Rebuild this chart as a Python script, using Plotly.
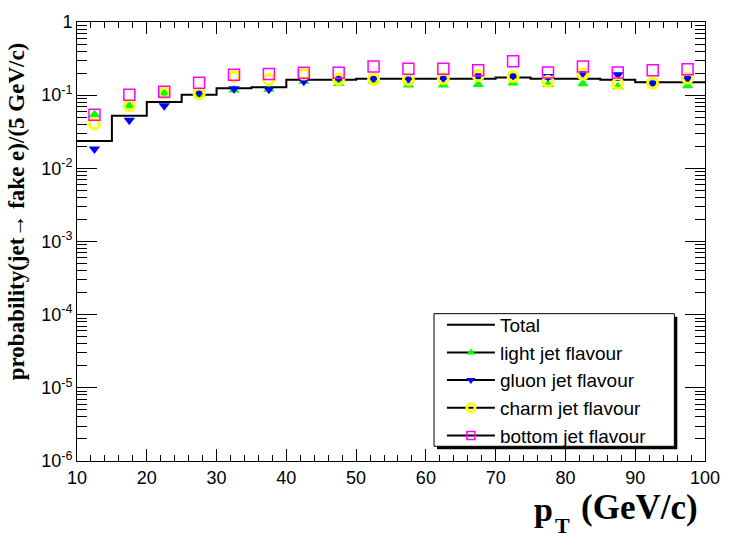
import plotly.graph_objects as go

# bin centres (pT, GeV/c) and bin edges
pt = [12.5, 17.5, 22.5, 27.5, 32.5, 37.5, 42.5, 47.5, 52.5, 57.5,
      62.5, 67.5, 72.5, 77.5, 82.5, 87.5, 92.5, 97.5]
edges = [10, 15, 20, 25, 30, 35, 40, 45, 50, 55, 60, 65, 70, 75, 80, 85, 90, 95, 100]

total = [0.0237, 0.0523, 0.0804, 0.101, 0.1245, 0.1284, 0.1628, 0.1628, 0.1678, 0.1678,
         0.1678, 0.1678, 0.1738, 0.1678, 0.1678, 0.1628, 0.1501, 0.1501]
light = [0.0542, 0.0717, 0.1059, 0.101, 0.1176, 0.1205, 0.155, 0.1441, 0.155, 0.1373,
         0.1373, 0.1402, 0.1471, 0.1402, 0.1431, 0.1303, 0.1431, 0.1342]
gluon = [0.0184, 0.0455, 0.0717, 0.1078, 0.1225, 0.1205, 0.155, 0.1717, 0.1697, 0.1678,
         0.1697, 0.1846, 0.1846, 0.1796, 0.1994, 0.1895, 0.1471, 0.1697]
charm = [0.0407, 0.0717, 0.1078, 0.1039, 0.1806, 0.1628, 0.1944, 0.1648, 0.1648, 0.1628,
         0.1678, 0.1846, 0.1806, 0.155, 0.1944, 0.1441, 0.1471, 0.1707]
bottom = [0.0542, 0.101, 0.1117, 0.1481, 0.1905, 0.1944, 0.2024, 0.2024, 0.246, 0.2291,
          0.2291, 0.2183, 0.2908, 0.2044, 0.246, 0.2044, 0.2183, 0.2262]

ytick_vals = [1e-6, 1e-5, 1e-4, 1e-3, 1e-2, 1e-1, 1]
ytick_text = ["10<sup>-6</sup>", "10<sup>-5</sup>", "10<sup>-4</sup>", "10<sup>-3</sup>",
              "10<sup>-2</sup>", "10<sup>-1</sup>", "1"]

# plot-area geometry in pixels (for placing paper-referenced annotations)
L, R, T, B = 77, 712, 14, 461
PW, PH = R - L, B - T


def px(x):
    return (x - L) / PW


def py(y):
    return (B - y) / PH


fig = go.Figure()

# Total histogram (step)
fig.add_trace(go.Scatter(x=edges, y=total + [total[-1]], mode="lines", line_shape="hv",
                         line=dict(color="black", width=2), showlegend=False, hoverinfo="skip"))

series = [
    ("light jet flavour", light, dict(symbol="triangle-up", size=10, color="#00ff00")),
    ("gluon jet flavour", gluon, dict(symbol="triangle-down", size=10, color="#0000ff")),
    ("charm jet flavour", charm, dict(symbol="circle-open", size=10, color="#ffff00", line=dict(width=3))),
    ("bottom jet flavour", bottom, dict(symbol="square-open", size=11, color="#ff00ff", line=dict(width=1.5))),
]
for name, vals, mk in series:
    fig.add_trace(go.Scatter(x=pt, y=vals, mode="markers", marker=mk, showlegend=False, name=name))

# legend entries (ROOT style line + marker)
fig.add_trace(go.Scatter(x=[None], y=[None], mode="lines", name="Total",
                         line=dict(color="black", width=2)))
for name, vals, mk in series:
    lm = dict(mk)
    lm["size"] = 8
    fig.add_trace(go.Scatter(x=[None], y=[None], mode="lines+markers", name=name,
                             line=dict(color="black", width=2), marker=lm))

axis_font = dict(family="Liberation Sans, Arial, sans-serif", size=18, color="black")
serif = "Liberation Serif, Times New Roman, serif"

fig.update_layout(
    width=732, height=541,
    margin=dict(l=L, r=732 - R, t=T, b=541 - B),
    paper_bgcolor="white", plot_bgcolor="white",
    showlegend=True,
    legend=dict(x=px(446), y=py(303), xanchor="left", yanchor="top",
                bgcolor="rgba(0,0,0,0)", borderwidth=0,
                font=dict(family="Liberation Sans, Arial, sans-serif", size=19, color="black"),
                itemwidth=48, tracegroupgap=0),
    xaxis=dict(range=[10, 100], showgrid=False, zeroline=False,
               showline=True, linecolor="black", linewidth=1, mirror="allticks",
               ticks="inside", ticklen=12, tickcolor="black", dtick=10, tick0=10,
               tickfont=axis_font,
               minor=dict(ticks="inside", ticklen=6, dtick=2, tick0=10, tickcolor="black", showgrid=False)),
    yaxis=dict(type="log", range=[-6, 0], showgrid=False, zeroline=False,
               showline=True, linecolor="black", linewidth=1, mirror="allticks",
               ticks="inside", ticklen=20, tickcolor="black",
               tickmode="array", tickvals=ytick_vals, ticktext=ytick_text,
               tickfont=axis_font,
               minor=dict(ticks="inside", ticklen=10, tickcolor="black", showgrid=False,
                          tickmode="array",
                          tickvals=[k * 10 ** d for d in range(-6, 0) for k in range(2, 10)])),
    shapes=[
        # legend shadow and box (ROOT style)
        dict(type="rect", xref="paper", yref="paper", layer="above",
             x0=px(441), x1=px(684), y0=py(449), y1=py(314),
             fillcolor="black", line=dict(width=0)),
        dict(type="rect", xref="paper", yref="paper", layer="above",
             x0=px(438), x1=px(681), y0=py(446), y1=py(311),
             fillcolor="white", line=dict(color="black", width=1)),
    ],
    annotations=[
        dict(text="<b>probability(jet\u2192 fake e)/(5 GeV/c)</b>", xref="paper", yref="paper",
             x=px(16), y=py(207), xanchor="center", yanchor="middle",
             textangle=-90, showarrow=False,
             font=dict(family=serif, size=23, color="black")),
        dict(text="<b>p</b>", xref="paper", yref="paper",
             x=px(537), y=py(510), xanchor="left", yanchor="middle",
             showarrow=False, font=dict(family=serif, size=34, color="black")),
        dict(text="<b>T</b>", xref="paper", yref="paper",
             x=px(558), y=py(541), xanchor="left", yanchor="bottom",
             showarrow=False, font=dict(family=serif, size=22, color="black")),
        dict(text="<b>(GeV/c)</b>", xref="paper", yref="paper",
             x=px(707), y=py(508), xanchor="right", yanchor="middle",
             showarrow=False, font=dict(family=serif, size=35, color="black")),
    ],
)

fig.write_html("out.html")
